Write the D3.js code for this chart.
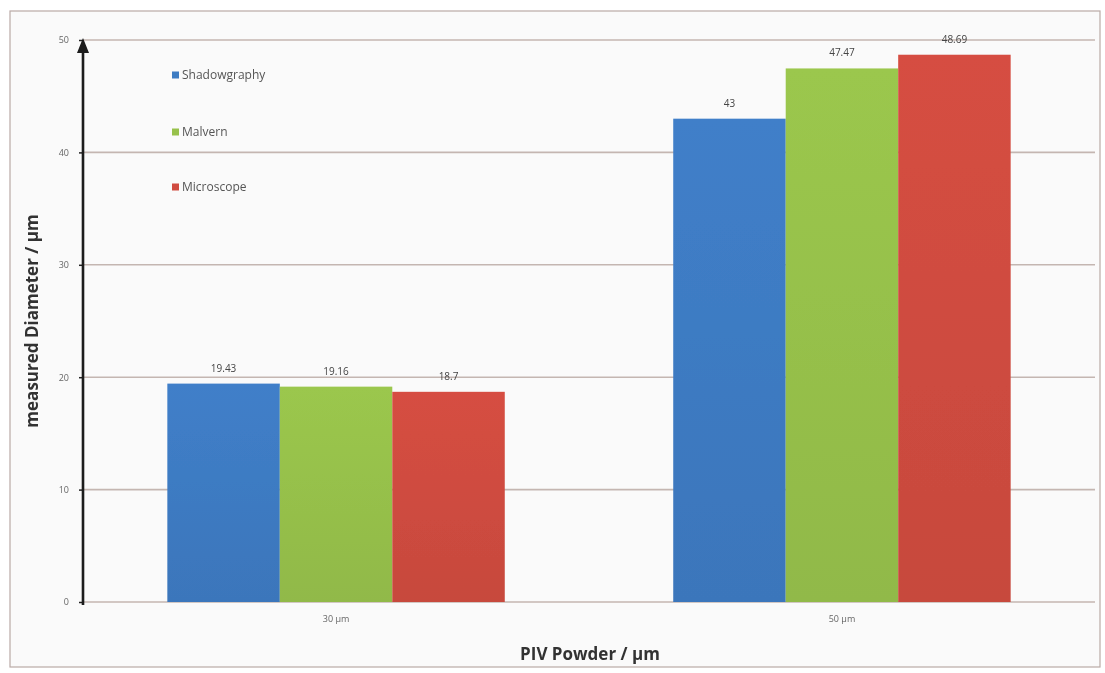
<!DOCTYPE html>
<html>
<head>
<meta charset="utf-8">
<script src="https://cdn.jsdelivr.net/npm/d3@7"></script>
<style>
  html, body { margin: 0; padding: 0; background: #ffffff; }
  svg { display: block; font-family: "Open Sans", "DejaVu Sans", sans-serif; }
</style>
</head>
<body>
<svg id="chart" width="1105" height="673"></svg>
<script>
// Particle size measured by three methods for two PIV powders
const categories = ["30 µm", "50 µm"];
const seriesNames = ["Shadowgraphy", "Malvern", "Microscope"];
const shadowgraphy = [19.43, 43];
const malvern = [19.16, 47.47];
const microscope = [18.7, 48.69];
const valueLabels = [["19.43", "43"], ["19.16", "47.47"], ["18.7", "48.69"]];
const yTicks = [0, 10, 20, 30, 40, 50];
const colors = ["#3e7bc3", "#97c14b", "#d04c40"];

const seriesValues = [shadowgraphy, malvern, microscope];

const svg = d3.select("#chart");
const W = 1105, H = 673;
const m = { left: 83, right: 1095, top: 40, bottom: 602 };

const defs = svg.append("defs");
defs.append("filter").attr("id", "soft")
  .append("feGaussianBlur").attr("stdDeviation", 0.7);
colors.forEach((c, i) => {
  const g = defs.append("linearGradient").attr("id", "grad" + i)
    .attr("x1", 0).attr("y1", 0).attr("x2", 0).attr("y2", 1);
  g.append("stop").attr("offset", "0%").attr("stop-color", d3.color(c).brighter(0.08));
  g.append("stop").attr("offset", "100%").attr("stop-color", d3.color(c).darker(0.12));
});

const root = svg.append("g").attr("filter", "url(#soft)");

// background and frame
root.append("rect").attr("x", 0).attr("y", 0).attr("width", W).attr("height", H).attr("fill", "#ffffff");
root.append("rect").attr("x", 10).attr("y", 11).attr("width", 1090).attr("height", 656)
  .attr("fill", "#fafafa").attr("stroke", "#b9aaa6").attr("stroke-width", 1.2);

const y = d3.scaleLinear().domain([0, 50]).range([m.bottom, m.top]);
const x0 = d3.scaleBand().domain(categories).range([m.left, m.right])
  .paddingInner(0.333).paddingOuter(0.1667);
const x1 = d3.scaleBand().domain(seriesNames).range([0, x0.bandwidth()]);

// horizontal gridlines
root.append("g").selectAll("line").data(yTicks).join("line")
  .attr("x1", m.left).attr("x2", m.right)
  .attr("y1", d => y(d)).attr("y2", d => y(d))
  .attr("stroke", "#c4b6b1").attr("stroke-width", 1.6);

// bars with value labels
const groups = root.append("g").selectAll("g").data(categories).join("g")
  .attr("transform", d => `translate(${x0(d)},0)`);
groups.each(function (cat, ci) {
  const g = d3.select(this);
  seriesNames.forEach((s, si) => {
    const v = seriesValues[si][ci];
    g.append("rect")
      .attr("x", x1(s)).attr("width", x1.bandwidth())
      .attr("y", y(v)).attr("height", y(0) - y(v))
      .attr("fill", `url(#grad${si})`);
    g.append("text")
      .attr("x", x1(s) + x1.bandwidth() / 2)
      .attr("y", y(v) - 12)
      .attr("text-anchor", "middle")
      .attr("font-size", 10).attr("fill", "#444")
      .text(valueLabels[si][ci]);
  });
});

// y axis: ticks, thick line and arrow head
const yAxis = d3.axisLeft(y).tickValues(yTicks).tickSize(4).tickPadding(10);
const ya = root.append("g").attr("transform", `translate(${m.left},0)`).call(yAxis);
ya.select(".domain").remove();
ya.selectAll(".tick line").attr("stroke", "#222").attr("stroke-width", 1.5);
ya.selectAll(".tick text").attr("font-size", 9).attr("fill", "#666")
  .attr("font-family", "'Open Sans', 'DejaVu Sans', sans-serif");
root.append("line").attr("x1", m.left).attr("x2", m.left)
  .attr("y1", m.bottom + 3).attr("y2", m.top + 8)
  .attr("stroke", "#1a1a1a").attr("stroke-width", 2.6);
root.append("path")
  .attr("d", `M${m.left - 6},${m.top + 13} L${m.left},${m.top - 2} L${m.left + 6},${m.top + 13} Z`)
  .attr("fill", "#1a1a1a");

// x category labels
const xAxis = d3.axisBottom(x0).tickSize(0).tickPadding(14);
const xa = root.append("g").attr("transform", `translate(0,${m.bottom})`).call(xAxis);
xa.select(".domain").remove();
xa.selectAll(".tick text").attr("font-size", 9).attr("fill", "#666")
  .attr("font-family", "'Open Sans', 'DejaVu Sans', sans-serif");

// axis titles
root.append("text").attr("x", 590).attr("y", 660).attr("text-anchor", "middle")
  .attr("font-size", 17).attr("font-weight", "bold").attr("fill", "#333")
  .text("PIV Powder / µm");
root.append("text").attr("transform", `translate(38,${(m.top + m.bottom) / 2}) rotate(-90)`)
  .attr("text-anchor", "middle").attr("font-size", 17).attr("font-weight", "bold").attr("fill", "#333")
  .text("measured Diameter / µm");

// legend
const legendY = [75, 132, 187];
const lg = root.append("g").selectAll("g").data(seriesNames).join("g")
  .attr("transform", (d, i) => `translate(172,${legendY[i]})`);
lg.append("rect").attr("x", 0).attr("y", -3.5).attr("width", 7).attr("height", 7)
  .attr("fill", (d, i) => colors[i]);
lg.append("text").attr("x", 10).attr("y", 0).attr("dy", "0.35em")
  .attr("font-size", 12).attr("fill", "#555").text(d => d);
</script>
</body>
</html>
